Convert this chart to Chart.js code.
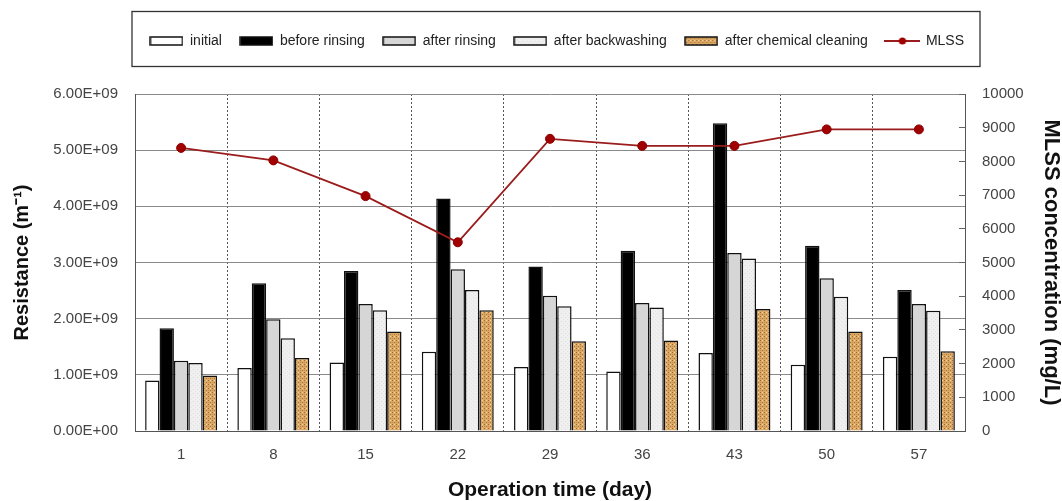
<!DOCTYPE html>
<html><head><meta charset="utf-8">
<script src="https://cdn.jsdelivr.net/npm/chart.js@4"></script>
<style>html,body{margin:0;padding:0;background:#fff}canvas{display:block}</style>
</head><body>
<canvas id="c" width="1062" height="501"></canvas>
<script>
// ---- data ----
const days = ['1', '8', '15', '22', '29', '36', '43', '50', '57'];
const initialR = [0.90e9, 1.12e9, 1.22e9, 1.41e9, 1.14e9, 1.06e9, 1.39e9, 1.18e9, 1.32e9];
const beforeRinsing = [1.83e9, 2.63e9, 2.85e9, 4.14e9, 2.93e9, 3.21e9, 5.48e9, 3.30e9, 2.51e9];
const afterRinsing = [1.25e9, 1.99e9, 2.26e9, 2.88e9, 2.41e9, 2.28e9, 3.17e9, 2.72e9, 2.26e9];
const afterBackwashing = [1.21e9, 1.65e9, 2.15e9, 2.51e9, 2.22e9, 2.20e9, 3.07e9, 2.39e9, 2.14e9];
const afterChemical = [0.99e9, 1.30e9, 1.77e9, 2.15e9, 1.60e9, 1.61e9, 2.17e9, 1.77e9, 1.42e9];
const mlss = [8400, 8030, 6970, 5600, 8670, 8460, 8460, 8950, 8950];
const seriesNames = ['initial', 'before rinsing', 'after rinsing', 'after backwashing', 'after chemical cleaning', 'MLSS'];
const leftAxisTitle = 'Resistance (m\u207B\u00B9)';
const rightAxisTitle = 'MLSS concentration (mg/L)';
const xAxisTitle = 'Operation time (day)';

const FONT = "'Liberation Sans', Arial, sans-serif";
const canvas = document.getElementById('c');
const ctx = canvas.getContext('2d');

function pattern(base, dots) {
  const c = document.createElement('canvas'); c.width = 4; c.height = 4;
  const g = c.getContext('2d');
  g.fillStyle = base; g.fillRect(0, 0, 4, 4);
  dots.forEach(d => { g.fillStyle = d[2]; g.fillRect(d[0], d[1], 1, 1); });
  return ctx.createPattern(c, 'repeat');
}
const chemFill = pattern('#dba865', [[0,0,'#9c6a30'],[2,2,'#a8743a'],[2,0,'#f2d49c'],[0,2,'#c8924e']]);
const backFill = pattern('#efefef', [[1,1,'#dedede'],[3,3,'#e4e4e4']]);

const fills = ['#ffffff', '#000000', '#d6d6d6', backFill, chemFill];

function legendBox(fill) {
  const c = document.createElement('canvas'); c.width = 34; c.height = 10;
  const g = c.getContext('2d');
  g.fillStyle = fill;
  g.fillRect(1, 1, 32, 8);
  g.strokeStyle = '#111'; g.lineWidth = 1.5;
  g.strokeRect(1, 1, 32, 8);
  return c;
}
function legendLine() {
  const c = document.createElement('canvas'); c.width = 36; c.height = 10;
  const g = c.getContext('2d');
  g.strokeStyle = '#9b1c1c'; g.lineWidth = 2;
  g.beginPath(); g.moveTo(0, 5); g.lineTo(36, 5); g.stroke();
  g.fillStyle = '#a00000'; g.beginPath(); g.arc(18, 5, 3.6, 0, Math.PI * 2); g.fill();
  return c;
}
const legendImgs = [legendBox('#ffffff'), legendBox('#000000'), legendBox('#d6d6d6'), legendBox(backFill), legendBox(chemFill), legendLine()];

function fmtExp(v) {
  const parts = Number(v).toExponential(2).split('e');
  const e = parseInt(parts[1], 10);
  const sign = e < 0 ? '-' : '+';
  const a = Math.abs(e);
  return parts[0] + 'E' + sign + (a < 10 ? '0' + a : '' + a);
}

function widen(fn) {
  return function (...args) {
    const l = this.left, r = this.right, w = this.width;
    const c = (l + r) / 2 + 7;
    this.left = c - 500; this.right = c + 500; this.width = 1000;
    const res = fn.apply(this, args);
    this.left = l; this.right = r; this.width = w;
    return res;
  };
}

const legendPlugin = {
  id: 'legendFrame',
  afterInit(chart) {
    const lg = chart.legend;
    const orig = lg.fit;
    lg.fit = function () {
      const mw = this.maxWidth;
      this.maxWidth = 3000;
      orig.call(this);
      this.maxWidth = mw;
      this.width = mw;
      this.height = 78;
    };
    lg.draw = widen(lg.draw);
    lg.adjustHitBoxes = widen(lg.adjustHitBoxes);
  },
  afterDraw(chart) {
    const hb = chart.legend.legendHitBoxes;
    if (!hb || !hb.length) return;
    const first = hb[0], last = hb[hb.length - 1];
    const cy = first.top + first.height / 2;
    const g = chart.ctx;
    g.save();
    g.strokeStyle = '#333'; g.lineWidth = 1.3;
    g.strokeRect(first.left - 18, cy - 29.5, (last.left + last.width + 16) - (first.left - 18), 55);
    g.restore();
  }
};

const barBase = { type: 'bar', yAxisID: 'y', borderColor: '#111', borderWidth: 1.5, categoryPercentage: 0.78, barPercentage: 1.0, order: 1 };
const barSeries = [initialR, beforeRinsing, afterRinsing, afterBackwashing, afterChemical];
const datasets = barSeries.map((d, i) => Object.assign({}, barBase, { label: seriesNames[i], data: d, backgroundColor: fills[i] }));
datasets.push({
  type: 'line', label: seriesNames[5], data: mlss, yAxisID: 'y2', order: 0,
  borderColor: '#9b1c1c', borderWidth: 1.8, tension: 0,
  pointRadius: 4.5, pointBackgroundColor: '#a00000', pointBorderColor: '#8a0000', pointBorderWidth: 1
});

new Chart(ctx, {
  data: { labels: days, datasets },
  plugins: [legendPlugin],
  options: {
    responsive: false, animation: false, devicePixelRatio: 1,
    layout: { padding: { top: 16, left: 0, right: 0, bottom: 0 } },
    plugins: {
      tooltip: { enabled: false },
      legend: {
        position: 'top', fullSize: false,
        labels: {
          usePointStyle: true, pointStyleWidth: 33, padding: 18, color: '#222',
          font: { family: FONT, size: 14 },
          generateLabels: (chart) => chart.data.datasets.map((ds, i) => ({
            text: ds.label, pointStyle: legendImgs[i], datasetIndex: i, hidden: false,
            fontColor: '#222', lineWidth: 0, fillStyle: 'rgba(0,0,0,0)', strokeStyle: 'rgba(0,0,0,0)'
          }))
        }
      }
    },
    scales: {
      x: {
        grid: { display: true, drawTicks: false, color: '#555', lineWidth: 1, offset: true },
        border: { display: true, color: '#555', dash: [2, 2] },
        ticks: { font: { family: FONT, size: 15 }, color: '#444', padding: 15 },
        title: { display: true, text: xAxisTitle, color: '#111', font: { family: FONT, size: 21, weight: 'bold', lineHeight: 1 }, padding: { top: 0, bottom: 0 } },
        afterFit: (s) => { s.height = 70; }
      },
      y: {
        position: 'left', min: 0, max: 6e9,
        grid: { color: '#8a8a8a', lineWidth: 1, drawTicks: false },
        border: { display: true, color: '#555', width: 1 },
        ticks: { stepSize: 1e9, callback: (v) => fmtExp(v), font: { family: FONT, size: 15 }, color: '#444', padding: 17 },
        title: { display: true, text: leftAxisTitle, color: '#111', font: { family: FONT, size: 20, weight: 'bold', lineHeight: 1 }, padding: { top: 12, bottom: 0 } },
        afterFit: (s) => { s.width = 135; }
      },
      y2: {
        position: 'right', min: 0, max: 10000,
        grid: { drawOnChartArea: false, drawTicks: true, tickLength: -6, color: '#666', lineWidth: 1 },
        border: { display: true, color: '#555', width: 1 },
        ticks: { stepSize: 1000, callback: (v) => String(v), font: { family: FONT, size: 15 }, color: '#444', padding: 23 },
        title: { display: true, text: rightAxisTitle, color: '#111', font: { family: FONT, size: 22, weight: 'bold', lineHeight: 1 }, padding: { top: 0, bottom: 0 } },
        afterFit: (s) => { s.width = 97; }
      }
    }
  }
});
</script>
</body></html>
